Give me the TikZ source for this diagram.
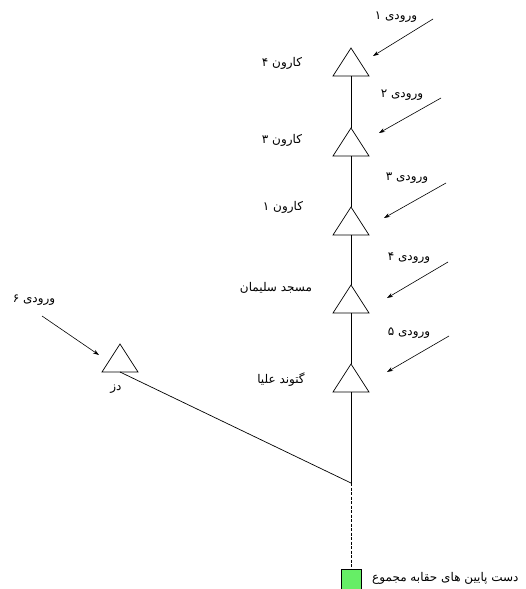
\documentclass[tikz,border=0pt]{standalone}
\usepackage{fontspec}
\newfontfamily\arabicfont[Script=Arabic]{DejaVu Sans}
\TeXXeTstate=1
\usetikzlibrary{arrows.meta}
\begin{document}
\begin{tikzpicture}[x=1pt,y=-1pt,
  line/.style={line width=0.7pt},
  arr/.style={line width=0.6pt,-{Stealth[length=6pt,width=4pt]}},
  lbl/.style={font=\arabicfont\fontsize{12}{14}\selectfont, inner sep=0pt},
  tri/.pic={\draw[line,line join=miter] (-18,28) -- (0,0) -- (18,28) -- cycle;
            \coordinate (-apex) at (0,0); \coordinate (-base) at (0,28);}]
\useasboundingbox (0,0) rectangle (525,589);
% triangles
\pic (k4) at (351,48) {tri};
\pic (k3) at (351,128) {tri};
\pic (k1) at (351,207) {tri};
\pic (ms) at (351,285) {tri};
\pic (go) at (351,364) {tri};
\pic (dz) at (120,344) {tri};
% junction and sink
\coordinate (jn) at (351,483);
\node[draw, line width=0.6pt, fill={rgb,255:red,102;green,238;blue,102}, minimum size=20pt, inner sep=0pt] (sink) at (351,579) {};
% main stem
\draw[line] (k4-base) -- (k3-apex);
\draw[line] (k3-base) -- (k1-apex);
\draw[line] (k1-base) -- (ms-apex);
\draw[line] (ms-base) -- (go-apex);
\draw[line] (go-base) -- (jn);
\draw[line] (dz-base) -- (jn);
\draw[line width=1pt, dash pattern=on 3pt off 1.5pt] (jn) -- (sink.north);
% inflow arrows
\coordinate (a1s) at (433,19);  \coordinate (a1e) at (373,56);
\coordinate (a2s) at (441,98);  \coordinate (a2e) at (379,133);
\coordinate (a3s) at (446,183); \coordinate (a3e) at (384,218);
\coordinate (a4s) at (448,262); \coordinate (a4e) at (387,298);
\coordinate (a5s) at (449,336); \coordinate (a5e) at (387,372);
\coordinate (a6s) at (42,316);  \coordinate (a6e) at (99,355);
\draw[arr] (a1s) -- (a1e);
\draw[arr] (a2s) -- (a2e);
\draw[arr] (a3s) -- (a3e);
\draw[arr] (a4s) -- (a4e);
\draw[arr] (a5s) -- (a5e);
\draw[arr] (a6s) -- (a6e);
% labels
\node[lbl] (l1) at (396,17) {\beginR ورودی ۱\endR};
\node[lbl] (l2) at (402,95) {\beginR ورودی ۲\endR};
\node[lbl] (l3) at (407,178) {\beginR ورودی ۳\endR};
\node[lbl] (l4) at (409,258) {\beginR ورودی ۴\endR};
\node[lbl] (l5) at (409,333) {\beginR ورودی ۵\endR};
\node[lbl] (l6) at (34,300) {\beginR ورودی ۶\endR};
\node[lbl] (n4) at (282,63) {\beginR کارون ۴\endR};
\node[lbl] (n3) at (282,140) {\beginR کارون ۳\endR};
\node[lbl] (n1) at (283,207) {\beginR کارون ۱\endR};
\node[lbl] (nm) at (276,288) {\beginR مسجد سلیمان\endR};
\node[lbl] (ng) at (281,380) {\beginR گتوند علیا\endR};
\node[lbl] (nd) at (116,389) {\beginR دز\endR};
\node[lbl, anchor=west] (ns) at (372,578) {\hbox{\beginR مجموع\endR}\ \hbox{\beginR حقابه\endR}\ \hbox{\beginR های\endR}\ \hbox{\beginR پایین\endR}\ \hbox{\beginR دست\endR}};
\end{tikzpicture}
\end{document}
